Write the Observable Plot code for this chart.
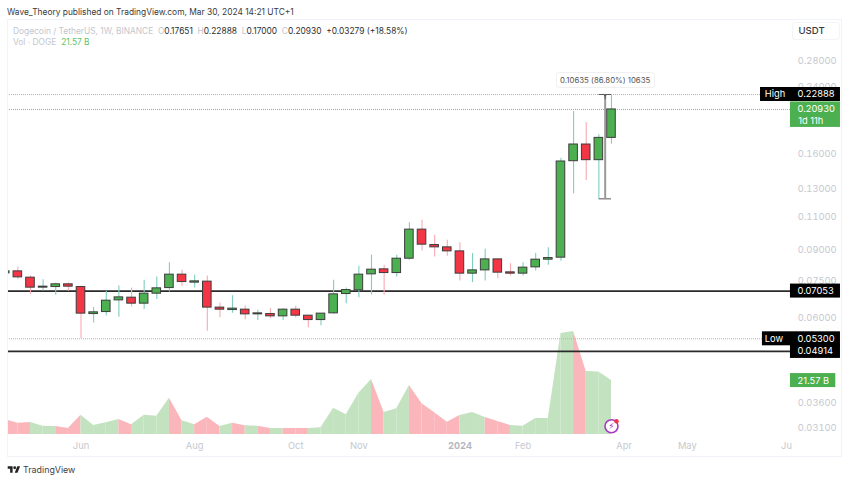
<!DOCTYPE html>
<html>
<head>
<meta charset="utf-8">
<script src="https://cdn.jsdelivr.net/npm/d3@7"></script>
<script src="https://cdn.jsdelivr.net/npm/@observablehq/plot@0.6"></script>
<style>
  html, body { margin: 0; padding: 0; background: #fff; width: 850px; height: 482px; overflow: hidden; }
  body { position: relative; font-family: Inter, "Liberation Sans", sans-serif; }
  .abs { position: absolute; white-space: nowrap; }
  #published { left: 7px; top: 4.5px; font-size: 8.4px; color: #3a3a3a; line-height: 14px; }
  #frame { left: 7px; top: 18.5px; width: 835px; height: 438px; border: 1px solid #f0f3fa; pointer-events: none; box-sizing: border-box; }
  #legend1 { left: 13px; top: 23.5px; font-size: 8.4px; line-height: 14px; color: #c3c6cd; }
  #legend1 b { font-weight: 400; color: #2f2f2f; }
  #legend2 { left: 13px; top: 35.3px; font-size: 8.4px; line-height: 14px; color: #c3c6cd; }
  #legend2 b { font-weight: 400; color: #5cc46a; margin-left: 2.5px; }
  #usdt { left: 792px; top: 22px; width: 48px; height: 18px; border: 1px solid #f3f4f8; border-radius: 4px; box-sizing: border-box; font-size: 9.6px; line-height: 16px; font-weight: 500; color: #3a3a3a; padding-left: 5.5px; }
  #chart { position: absolute; left: 0; top: 19px; }
  #brand { left: 23px; top: 463px; font-size: 8.9px; line-height: 14px; color: #3f3f3f; }
  #logo { left: 7px; top: 465.5px; }
</style>
</head>
<body>
<div id="published" class="abs">Wave_Theory published on TradingView.com, Mar 30, 2024 14:21 UTC+1</div>
<div id="chart"></div>
<div id="frame" class="abs"></div>
<div id="legend1" class="abs">Dogecoin / TetherUS, 1W, BINANCE &nbsp;O<b>0.17651</b> &nbsp;H<b>0.22888</b> &nbsp;L<b>0.17000</b> &nbsp;C<b>0.20930</b> &nbsp;<b>+0.03279 (+18.58%)</b></div>
<div id="legend2" class="abs">Vol · DOGE <b>21.57 B</b></div>
<div id="usdt" class="abs">USDT</div>
<svg id="logo" class="abs" width="14" height="7" viewBox="0 3 36 20"><path fill="#222" d="M14 22H7V11H0V4h14v18zM28 22h-8l7.5-18h8L28 22z"/><circle fill="#222" cx="20" cy="8" r="4"/></svg>
<div id="brand" class="abs">TradingView</div>
<script>
// Weekly candles of DOGE/USDT
const dates = d3.utcMonday.range(new Date(Date.UTC(2023, 3, 24)), new Date(Date.UTC(2024, 2, 26)));
const open = [.07843,.07937,.07643,.07199,.07225,.07344,.07225,.06146,.06220,.06671,.06780,.06541,.06944,.07181,.07782,.07419,.07463,.06388,.06295,.06310,.06135,.06146,.06062,.06310,.06087,.05929,.06172,.06929,.07083,.07796,.08033,.07857,.08562,.10190,.09291,.09164,.08946,.07829,.07984,.08527,.07890,.07829,.08129,.08512,.08615,.15351,.16965,.15445,.17651];
const close = [.07937,.07657,.07199,.07242,.07344,.07242,.06162,.06210,.06659,.06792,.06541,.06944,.07169,.07782,.07445,.07476,.06388,.06310,.06349,.06135,.06172,.06062,.06310,.06087,.05929,.06162,.06916,.07096,.07782,.08017,.07857,.08562,.10190,.09313,.09164,.08946,.07829,.07984,.08527,.07876,.07829,.08115,.08512,.08595,.15324,.16965,.15445,.17651,.20930];
const high = [.07937,.08144,.07717,.07551,.07401,.07401,.07268,.06388,.07041,.07268,.07181,.07520,.07670,.08362,.07984,.07749,.07717,.06565,.06862,.06463,.06284,.06349,.06349,.06437,.06087,.06162,.07520,.07181,.08178,.08751,.08227,.08735,.10625,.10771,.09846,.09556,.09425,.08827,.09054,.08527,.08310,.08362,.08827,.09147,.15630,.20672,.19320,.17980,.22888];
const low = [.07843,.07565,.06916,.07053,.06874,.07041,.05300,.05823,.06073,.06026,.06411,.06321,.06711,.07012,.07255,.07181,.05549,.06014,.06173,.05943,.05918,.05979,.05918,.06001,.05666,.05734,.06135,.06541,.06780,.06887,.06874,.07670,.08477,.08962,.08648,.08684,.07489,.07419,.07489,.07597,.07717,.07717,.07951,.08227,.08427,.12630,.13676,.12253,.17000];
// Volume, billions of DOGE
const volume = [5.9,4.53,4.8,3.33,3.2,2.4,7.73,3.6,4.67,6.0,3.87,7.73,7.33,14.53,5.47,3.87,6.93,3.2,4.53,3.47,3.33,2.4,2.4,2.4,2.4,2.67,10.53,7.87,16.53,22.0,8.8,10.27,19.6,12.27,8.67,4.93,7.6,8.8,6.8,5.2,3.6,3.33,6.4,6.4,40.4,41.2,25.2,25.0,21.57];

// Axis labels
const priceTicks = [0.28, 0.24, 0.16, 0.13, 0.11, 0.09, 0.075, 0.06, 0.036, 0.031];
const monthTicks = [[2023,5,5,"Jun"],[2023,7,7,"Aug"],[2023,9,2,"Oct"],[2023,10,6,"Nov"],[2024,1,5,"Feb"],[2024,3,1,"Apr"],[2024,4,6,"May"],[2024,5,30,"Ju"]];
const yearTick = new Date(Date.UTC(2024, 0, 1));

// Price levels
const lastClose = 0.2093, periodHigh = 0.22888, periodLow = 0.053;
const supports = [0.07053, 0.04914];
const rulerLow = 0.12253;
const rulerLabelLevel = 0.2489;

// Price axis is log; the volume pane shares it through this mapping
const yDomain = [0.02988, 0.35864];
const volY = v => yDomain[0] * Math.exp(v * 0.01497);

const WEEK = 7 * 864e5;
const lastBar = dates[dates.length - 1];
const weeks = n => new Date(+lastBar + n * WEEK);
const bars = dates.map((date, i) => ({date, open: open[i], high: high[i], low: low[i], close: close[i], up: close[i] >= open[i]}));

const segments = [];
for (let i = 1; i < bars.length; i++) {
  const fill = bars[i].up ? "#c3e2bf" : "#fbb6bc";
  segments.push({seg: i, fill, date: dates[i - 1], v: volY(volume[i - 1])});
  segments.push({seg: i, fill, date: dates[i], v: volY(volume[i])});
}

const WHITE = "#ffffff", BLACK = "#000000", GREEN = "#4caf50";
const axisColor = "#c6c8d0";

const tag = (price, from, to, fill, top = 7, bottom = 7) =>
  Plot.rect([price], {x1: () => weeks(from), x2: () => weeks(to), y1: d => d, y2: d => d, fill, insetTop: -top, insetBottom: -bottom});
const tagText = (price, at, text, anchor = "start", extra = {}) =>
  Plot.text([price], {x: () => weeks(at), y: d => d, text: () => text, textAnchor: anchor, fill: WHITE, fontSize: 9.3, ...extra});
const level = (price, to, stroke, strokeWidth, dash) =>
  Plot.ruleY([price], {x1: () => weeks(-47.82), x2: () => weeks(to), stroke, strokeWidth, strokeDasharray: dash});

const plot = Plot.plot({
  width: 850, height: 438,
  marginTop: 0, marginBottom: 23, marginLeft: 7, marginRight: 7,
  style: {fontFamily: "Inter, 'Liberation Sans', sans-serif", fontSize: "9.3px", background: "transparent"},
  color: {type: "identity"},
  x: {type: "utc", domain: [weeks(-47.82), weeks(18.37)]},
  y: {type: "log", domain: yDomain},
  marks: [
    // Volume pane
    Plot.areaY(segments, {x: "date", y1: yDomain[0], y2: "v", z: "seg", fill: "fill", clip: true}),

    // Axes
    Plot.axisY({ticks: priceTicks, anchor: "right", tickSize: 0, tickPadding: -7, textAnchor: "end", tickFormat: d3.format(".5f"), color: axisColor, label: null}),
    Plot.axisX({ticks: monthTicks.map(([y, m, d]) => new Date(Date.UTC(y, m, d))), tickFormat: d => monthTicks.find(([y, m, n]) => +new Date(Date.UTC(y, m, n)) === +d)[3], tickSize: 0, tickPadding: 8, color: axisColor, label: null}),
    Plot.axisX({ticks: [yearTick], tickFormat: d => d3.utcFormat("%Y")(d), tickSize: 0, tickPadding: 8, color: "#b4b7c0", fontWeight: 700, label: null}),

    // Reference levels
    level(periodHigh, 11.8, "#b4b4b4", 1, "1,1"),
    level(lastClose, 14.17, "#f77f7f", 1, "1,1"),
    level(periodLow, 11.95, "#b4b4b4", 1, "1,1"),
    level(supports[0], 14.17, "#2a2a2a", 1.6),
    level(supports[1], 14.17, "#2a2a2a", 1.6),

    // Candles
    Plot.ruleX(bars, {x: "date", y1: "low", y2: "high", stroke: d => d.up ? "#7fcdc1" : "#f9a9b1", strokeWidth: 1.1, clip: true}),
    Plot.rect(bars, {
      x1: d => new Date(+d.date - 0.34 * WEEK), x2: d => new Date(+d.date + 0.34 * WEEK),
      y1: "open", y2: "close", fill: d => d.up ? GREEN : "#f23645",
      stroke: "#3d3d3d", strokeWidth: 1, clip: true
    }),

    // Measuring ruler
    Plot.ruleY([periodHigh, rulerLow], {x1: () => new Date(+dates[47] + 0.02 * WEEK), x2: () => lastBar, stroke: "#555555", strokeWidth: 1}),
    Plot.ruleX([0.5], {x: () => weeks(-0.5), y1: rulerLow, y2: periodHigh, stroke: "#9a9a9a", strokeWidth: 2}),
    Plot.arrow([periodHigh], {x: () => weeks(-0.5), y1: d => d * 0.975, y2: d => d, stroke: "#555555", strokeWidth: 1, headLength: 7, bend: 0}),
    Plot.rect([rulerLabelLevel], {x1: () => weeks(-4.31), x2: () => weeks(3.46), y1: d => d, y2: d => d, insetTop: -7.5, insetBottom: -7.5, fill: WHITE, stroke: "#f0f0f0", rx: 3}),
    Plot.text([rulerLabelLevel], {x: () => weeks(-0.5), y: d => d, text: () => "0.10635 (86.80%) 10635", fontSize: 7.8, fill: "#555555"}),

    // Price tags
    tag(periodHigh, 11.8, 18.13, BLACK),
    tag(lastClose, 14.17, 18.13, GREEN, 7.5, 18),
    tag(supports[0], 14.17, 18.13, BLACK),
    tag(periodLow, 11.95, 18.13, BLACK),
    tag(supports[1], 14.17, 18.13, BLACK),
    tagText(periodHigh, 12.14, "High"),
    tagText(periodHigh, 14.73, "0.22888"),
    tagText(lastClose, 14.73, "0.20930"),
    tagText(lastClose, 14.78, "1d 11h", "start", {dy: 12}),
    tagText(supports[0], 14.73, "0.07053"),
    tagText(periodLow, 12.14, "Low"),
    tagText(periodLow, 14.73, "0.05300"),
    tagText(supports[1], 14.73, "0.04914"),
    tag(volY(21.57), 14.17, 17.76, GREEN),
    tagText(volY(21.57), 14.73, "21.57 B"),

    // Event marker
    Plot.dot([volY(3.3)], {x: () => lastBar, y: d => d, r: 6.5, fill: WHITE, stroke: "#a83bc4", strokeWidth: 1.6}),
    Plot.text([volY(3.3)], {x: () => lastBar, y: d => d, text: () => "⚡", fill: "#a83bc4", fontSize: 8.5, fontFamily: "DejaVu Sans"}),
    Plot.dot([volY(3.3)], {x: () => lastBar, y: d => d, r: 2.2, fill: "#f23645", dx: 5, dy: -5})
  ]
});
document.getElementById("chart").appendChild(plot);
</script>
</body>
</html>
